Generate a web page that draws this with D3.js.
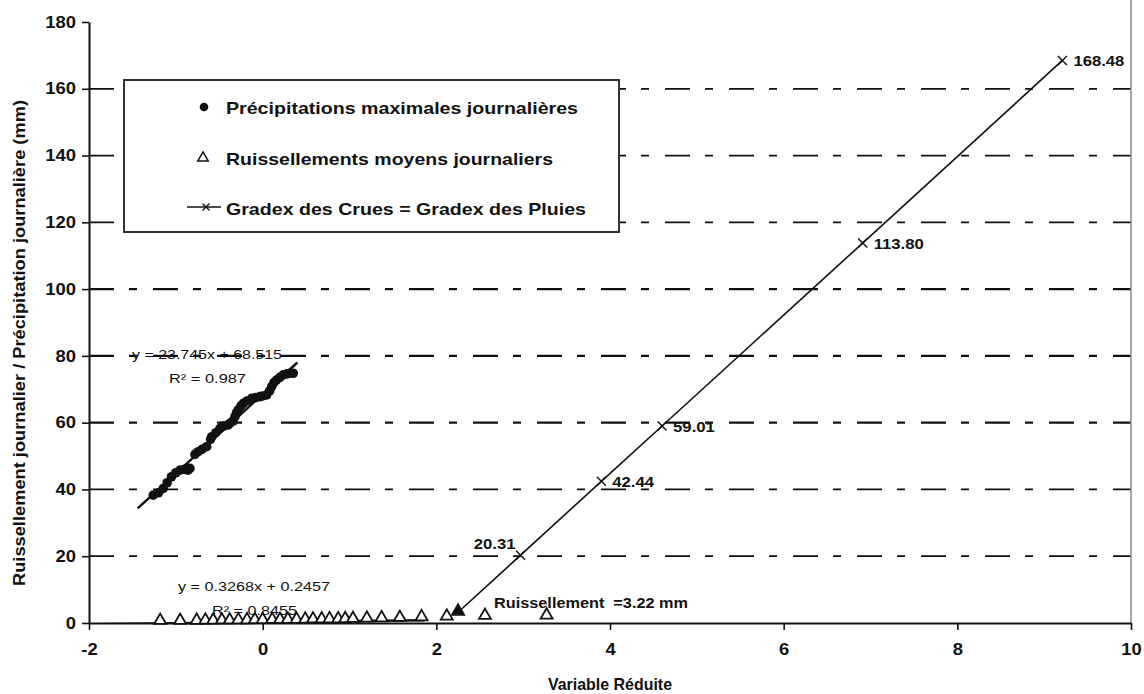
<!DOCTYPE html>
<html>
<head>
<meta charset="utf-8">
<script src="https://cdn.jsdelivr.net/npm/d3@7"></script>
<style>
  body { margin: 0; background: #fff; }
  svg { display: block; }
  text { font-family: "Liberation Sans", Arial, sans-serif; fill: #111; white-space: pre; }
</style>
</head>
<body>
<svg id="chart" width="1144" height="694"></svg>
<script>
// ---- data ----
const xTicks = [-2, 0, 2, 4, 6, 8, 10];
const yTicks = [0, 20, 40, 60, 80, 100, 120, 140, 160, 180];
const gridLevels = [20, 40, 60, 80, 100, 120, 140, 160];

// Précipitations maximales journalières (variable réduite, mm)
const precipX = [-1.26, -1.20, -1.145, -1.10, -1.05, -1.00, -0.952, -0.90, -0.86, -0.837,
  -0.78, -0.742, -0.70, -0.645, -0.60, -0.587, -0.54, -0.492, -0.45, -0.40, -0.377,
  -0.34, -0.319, -0.30, -0.281, -0.25, -0.223, -0.18, -0.127, -0.08, -0.031, 0.00,
  0.046, 0.08, 0.104, 0.13, 0.161, 0.20, 0.237, 0.28, 0.31, 0.352];
const precipY = [38.3, 39.0, 40.3, 42.0, 43.8, 45.0, 45.8, 46.0, 45.8, 46.3,
  50.5, 51.3, 52.0, 52.8, 55.0, 55.8, 57.0, 58.3, 59.0, 59.3, 59.8,
  60.5, 61.8, 63.0, 63.8, 65.0, 65.8, 66.5, 67.3, 67.5, 67.8, 68.0,
  68.3, 69.5, 70.8, 72.0, 72.8, 73.6, 74.3, 74.6, 74.8, 74.8];

// Ruissellements moyens journaliers (variable réduite, mm)
const runoffX = [-1.18, -0.95, -0.76, -0.66, -0.57, -0.47, -0.38, -0.28, -0.18, -0.09,
  0.00, 0.11, 0.20, 0.29, 0.39, 0.49, 0.58, 0.68, 0.77, 0.87, 0.95, 1.04, 1.20, 1.37,
  1.58, 1.83, 2.12, 2.56, 3.27];
const runoffY = [0.0, 0.0, 0.05, 0.1, 0.1, 0.15, 0.15, 0.2, 0.2, 0.25,
  0.25, 0.3, 0.3, 0.35, 0.35, 0.4, 0.45, 0.45, 0.5, 0.5, 0.55, 0.6, 0.7, 0.8,
  0.9, 1.1, 1.3, 1.5, 1.6];

// Gradex des crues = gradex des pluies (extrapolation from the 10-year runoff)
const gradexX = [2.25, 2.97, 3.90, 4.60, 6.91, 9.21];
const gradexY = [3.22, 20.31, 42.44, 59.01, 113.80, 168.48];

// Linear fits: [slope, intercept, R²] and the x span each trend line covers
const precipFit = [23.745, 68.515, 0.987];
const precipFitSpan = [-1.44, 0.40];
const runoffFit = [0.3268, 0.2457, 0.8455];
const runoffFitSpan = [-1.9, 1.86];

// ---- layout ----
const svg = d3.select("#chart");
const x = d3.scaleLinear().domain([-2, 10]).range([89, 1131]);
const y = d3.scaleLinear().domain([0, 180]).range([623, 22]);
const STRETCH = 1.2;

svg.append("defs").append("clipPath").attr("id", "plot-area")
  .append("rect").attr("x", x(-2)).attr("y", y(180)).attr("width", x(10) - x(-2)).attr("height", y(0) - y(180) + 1);

// widen glyphs horizontally; either by a factor or to a fixed length
function stretch(sel, factor = STRETCH, fixed = null) {
  sel.each(function () {
    const len = fixed != null ? fixed : this.getComputedTextLength() * factor;
    d3.select(this).attr("textLength", len).attr("lengthAdjust", "spacingAndGlyphs");
  });
  return sel;
}
function addText(str, px, py, size, weight, anchor = "start", factor = STRETCH, fixed = null) {
  const t = svg.append("text")
    .attr("x", px).attr("y", py)
    .attr("font-size", size).attr("font-weight", weight)
    .attr("text-anchor", anchor)
    .text(str);
  stretch(t, factor, fixed);
  return t;
}

// ---- dash-dot gridlines ----
svg.append("g").selectAll("line").data(gridLevels).join("line")
  .attr("x1", x(-2)).attr("x2", x(10))
  .attr("y1", d => y(d)).attr("y2", d => y(d))
  .attr("stroke", "#111").attr("stroke-width", d => (d >= 60 && d <= 100 ? 2.3 : 1.7))
  .attr("stroke-dasharray", "25,15,8,16");

// right frame edge
svg.append("line")
  .attr("x1", x(10)).attr("x2", x(10)).attr("y1", 0).attr("y2", y(0))
  .attr("stroke", "#8a8a8a").attr("stroke-width", 1.5);

// ---- axes ----
const yAxis = svg.append("g").attr("transform", `translate(${x(-2)},0)`)
  .call(d3.axisLeft(y).tickValues(yTicks).tickFormat(d => String(d))
    .tickSize(7).tickSizeOuter(0).tickPadding(6));
const xAxis = svg.append("g").attr("transform", `translate(0,${y(0)})`)
  .call(d3.axisBottom(x).tickValues(xTicks).tickFormat(d => String(d))
    .tickSize(7).tickSizeOuter(0).tickPadding(14));
[yAxis, xAxis].forEach(g => {
  g.attr("font-family", null).attr("font-size", null);
  g.select(".domain").attr("stroke", "#111").attr("stroke-width", 2);
  g.selectAll(".tick line").attr("stroke", "#111").attr("stroke-width", 1.6);
  g.selectAll(".tick text").attr("font-size", 16).attr("font-weight", "bold").attr("fill", "#111");
  stretch(g.selectAll(".tick text"), 1.15);
});

addText("Variable Réduite", 610, 690, 16.5, "bold", "middle", 1, 124);
const yTitle = svg.append("text")
  .attr("transform", `translate(25,343) rotate(-90)`)
  .attr("text-anchor", "middle").attr("font-size", 16.5).attr("font-weight", "bold")
  .text("Ruissellement journalier / Précipitation journalière (mm)");
stretch(yTitle, 1, 486);

// ---- trend lines ----
const fitLine = (fit, span) => span.map(v => [x(v), y(fit[0] * v + fit[1])]);
svg.append("path").attr("d", d3.line()(fitLine(precipFit, precipFitSpan)))
  .attr("stroke", "#111").attr("stroke-width", 2.5).attr("fill", "none");
svg.append("path").attr("d", d3.line()(fitLine(runoffFit, runoffFitSpan)))
  .attr("clip-path", "url(#plot-area)")
  .attr("stroke", "#111").attr("stroke-width", 2.5).attr("fill", "none");

// ---- precipitation points ----
svg.append("g").selectAll("circle").data(precipX).join("circle")
  .attr("cx", d => x(d)).attr("cy", (d, i) => y(precipY[i])).attr("r", 4.8)
  .attr("fill", "#111");

// ---- runoff points ----
const tri = d3.symbol().type(d3.symbolTriangle).size(62);
svg.append("g").selectAll("path").data(runoffX).join("path")
  .attr("transform", (d, i) => `translate(${x(d)},${y(runoffY[i]) - 2.5})`)
  .attr("d", tri).attr("fill", "#fff").attr("stroke", "#111").attr("stroke-width", 1.8);

// ---- gradex line ----
const gradexPts = gradexX.map((v, i) => [x(v), y(gradexY[i])]);
svg.append("path").attr("d", d3.line()(gradexPts))
  .attr("stroke", "#111").attr("stroke-width", 1.6).attr("fill", "none");
const cross = "M-4.5,-4.5L4.5,4.5M-4.5,4.5L4.5,-4.5";
svg.append("g").selectAll("path").data(gradexPts.slice(1)).join("path")
  .attr("transform", d => `translate(${d[0]},${d[1]})`)
  .attr("d", cross).attr("stroke", "#111").attr("stroke-width", 1.5).attr("fill", "none");
svg.append("path")
  .attr("transform", `translate(${gradexPts[0][0]},${gradexPts[0][1] - 1})`)
  .attr("d", d3.symbol().type(d3.symbolTriangle).size(100)).attr("fill", "#111");

// value labels on the gradex line
gradexY.forEach((v, i) => {
  if (i === 0) return;
  const [px, py] = gradexPts[i];
  if (i === 1) addText(v.toFixed(2), px - 5, py - 6, 14.5, "bold", "end", 1.15);
  else addText(v.toFixed(2), px + 11, py + 6, 14.5, "bold", "start", 1.15);
});
addText(`Ruissellement  =${gradexY[0].toFixed(2)} mm`, 494, 608, 14.5, "bold", "start", 1, 194);

// fit equations
addText(`y = ${precipFit[0]}x + ${precipFit[1]}`, 132, 359, 13.5, "normal", "start", 1, 150);
addText(`R² = ${precipFit[2]}`, 169, 383, 13.5, "normal", "start", 1, 77);
addText(`y = ${runoffFit[0]}x + ${runoffFit[1]}`, 178, 591, 13.5, "normal", "start", 1, 152);
addText(`R² = ${runoffFit[2]}`, 212, 615, 13.5, "normal", "start", 1, 85);

// ---- legend ----
const lg = svg.append("g");
lg.append("rect").attr("x", 124).attr("y", 80).attr("width", 495).attr("height", 152)
  .attr("fill", "#fff").attr("stroke", "#333").attr("stroke-width", 2);
lg.append("circle").attr("cx", 204).attr("cy", 107).attr("r", 4.3).attr("fill", "#111");
lg.append("path").attr("transform", "translate(203,158)")
  .attr("d", d3.symbol().type(d3.symbolTriangle).size(48))
  .attr("fill", "#fff").attr("stroke", "#111").attr("stroke-width", 1.5);
lg.append("line").attr("x1", 187).attr("x2", 221).attr("y1", 207).attr("y2", 207)
  .attr("stroke", "#111").attr("stroke-width", 1.5);
lg.append("path").attr("transform", "translate(206,207)")
  .attr("d", "M-3.5,-3.5L3.5,3.5M-3.5,3.5L3.5,-3.5").attr("stroke", "#111").attr("stroke-width", 1.4);
svg.append("g").node().appendChild(lg.node());
addText("Précipitations maximales journalières", 226, 114, 17, "bold", "start", 1, 352);
addText("Ruissellements moyens journaliers", 226, 165, 17, "bold", "start", 1, 327);
addText("Gradex des Crues = Gradex des Pluies", 226, 215, 17, "bold", "start", 1, 360);
</script>
</body>
</html>
